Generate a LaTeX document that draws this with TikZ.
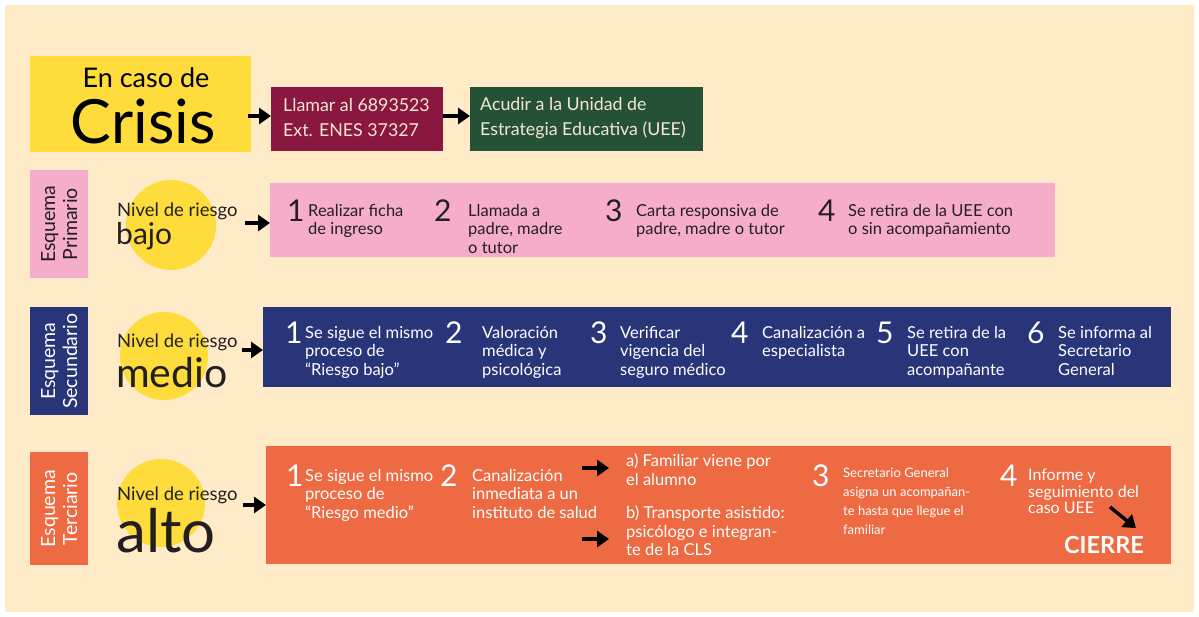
\documentclass[tikz,border=0pt]{standalone}
\usepackage{fontspec}
\setmainfont{Lato}
\usetikzlibrary{arrows.meta}
\definecolor{cream}{HTML}{FFEBC8}
\definecolor{yel}{HTML}{FDDC3C}
\definecolor{maroon}{HTML}{8A173F}
\definecolor{dgreen}{HTML}{255236}
\definecolor{pinkb}{HTML}{F5ADCA}
\definecolor{navy}{HTML}{283579}
\definecolor{orng}{HTML}{EE6A43}
\definecolor{lighttxt}{HTML}{F5E6D6}
\definecolor{darktxt}{HTML}{231F20}
\tikzset{
  box/.style={draw=none, inner sep=0pt, anchor=north west, rectangle},
  arr/.style={line width=4.3pt, -{Triangle[length=12pt,width=16pt]}},
  num/.style={inner sep=0pt, anchor=north west, font=\fontsize{30}{30}\selectfont},
  stxt/.style={inner sep=0pt, anchor=north west, align=left, font=\fontsize{16.5}{18.5}\selectfont},
  small/.style={inner sep=0pt, anchor=north west, align=left, font=\fontsize{13}{19}\selectfont},
  esq/.style={inner sep=0pt, rotate=90, align=center, font=\fontsize{19.5}{22}\selectfont},
  nivel/.style={inner sep=0pt, anchor=base west, font=\fontsize{18.5}{18.5}\selectfont, text=darktxt},
  blob/.style={circle, fill=yel, inner sep=0pt},
}
\begin{document}
\begin{tikzpicture}[x=1pt,y=-1pt]
\useasboundingbox (0,0) rectangle (1199,617);
\fill[white] (0,0) rectangle (1199,617);
\fill[cream] (5,5) rectangle (1194,612);

% ---- top row
\node[box, fill=yel, minimum width=221pt, minimum height=96pt] (crisis) at (30,56) {};
\node[inner sep=0pt, font=\fontsize{27}{27}\selectfont, text=black] (encaso) at (146,78) {En caso de};
\node[inner sep=0pt, font=\fontsize{61}{61}\selectfont, text=black] (crisisw) at (143,121) {Crisis};

\node[box, fill=maroon, minimum width=172pt, minimum height=64pt] (llamar) at (271,87) {};
\node[inner sep=0pt, anchor=west, align=left, text=lighttxt, font=\fontsize{17.8}{25}\selectfont] (llamart) at (283,118) {Llamar al 6893523\\Ext. ENES 37327};

\node[box, fill=dgreen, minimum width=233pt, minimum height=64pt] (acudir) at (470,87) {};
\node[inner sep=0pt, anchor=west, align=left, text=lighttxt, font=\fontsize{17.8}{25}\selectfont] (acudirt) at (480,118) {Acudir a la Unidad de\\Estrategia Educativa (UEE)};

\draw[arr] ([xshift=-3pt]crisis.east |- 0,116) -- (llamar.west |- 0,116);
\draw[arr] (llamar.east |- 0,116) -- (acudir.west |- 0,116);

% ---- primario row
\node[box, fill=pinkb, minimum width=58pt, minimum height=108pt] (esqp) at (30,170) {};
\node[esq, text=darktxt] (esqpt) at (esqp.center) {Esquema\\Primario};
\node[blob, minimum size=90pt] (c1) at (171,225) {};
\node[nivel] (nv1) at (117,217) {Nivel de riesgo};
\node[nivel, font=\fontsize{30}{30}\selectfont] (bajo) at (116,245) {bajo};
\node[box, fill=pinkb, minimum width=785pt, minimum height=74pt] (pbox) at (270,183) {};
\draw[arr] ([xshift=7pt]nv1.east |- 0,223) -- (pbox.west |- 0,223);

\begin{scope}[every node/.append style={text=darktxt}]
\node[num] (p1n) at (287,200) {1};
\node[stxt] (p1t) at (308,204) {Realizar ficha\\de ingreso};
\node[num] (p2n) at (434,200) {2};
\node[stxt] (p2t) at (468,204) {Llamada a\\padre, madre\\o tutor};
\node[num] (p3n) at (605,200) {3};
\node[stxt] (p3t) at (636,204) {Carta responsiva de\\padre, madre o tutor};
\node[num] (p4n) at (818,200) {4};
\node[stxt] (p4t) at (848,204) {Se retira de la UEE con\\o sin acompañamiento};
\end{scope}

% ---- secundario row
\node[box, fill=navy, minimum width=58pt, minimum height=108pt] (esqs) at (30,307) {};
\node[esq, text=white] (esqst) at (esqs.center) {Esquema\\Secundario};
\node[blob, minimum size=88pt] (c2) at (164,356) {};
\node[nivel] (nv2) at (117,348) {Nivel de riesgo};
\node[nivel, font=\fontsize{41}{41}\selectfont] (medio) at (116,387) {medio};
\node[box, fill=navy, minimum width=908pt, minimum height=80pt] (sbox) at (263,307) {};
\draw[arr] ([xshift=4pt]nv2.east |- 0,350) -- (sbox.west |- 0,350);

\begin{scope}[every node/.append style={text=white}]
\node[num] (s1n) at (285,322) {1};
\node[stxt] (s1t) at (305,326) {Se sigue el mismo\\proceso de\\“Riesgo bajo”};
\node[num] (s2n) at (445,322) {2};
\node[stxt] (s2t) at (482,326) {Valoración\\médica y\\psicológica};
\node[num] (s3n) at (590,322) {3};
\node[stxt] (s3t) at (620,326) {Verificar\\vigencia del\\seguro médico};
\node[num] (s4n) at (731,322) {4};
\node[stxt] (s4t) at (762,326) {Canalización a\\especialista};
\node[num] (s5n) at (876,322) {5};
\node[stxt] (s5t) at (907,326) {Se retira de la\\UEE con\\acompañante};
\node[num] (s6n) at (1027,322) {6};
\node[stxt] (s6t) at (1058,326) {Se informa al\\Secretario\\General};
\end{scope}

% ---- terciario row
\node[box, fill=orng, minimum width=58pt, minimum height=113pt] (esqt) at (30,452) {};
\node[esq, text=white] (esqtt) at (esqt.center) {Esquema\\Terciario};
\node[blob, minimum size=88pt] (c3) at (161,503) {};
\node[nivel] (nv3) at (117,500) {Nivel de riesgo};
\node[nivel, font=\fontsize{60}{60}\selectfont] (alto) at (116,552) {alto};
\node[box, fill=orng, minimum width=905pt, minimum height=118pt] (tbox) at (266,446) {};
\draw[arr] ([xshift=5pt]nv3.east |- 0,505) -- (tbox.west |- 0,505);

\begin{scope}[every node/.append style={text=white}]
\node[num] (t1n) at (286,465) {1};
\node[stxt] (t1t) at (305,469) {Se sigue el mismo\\proceso de\\“Riesgo medio”};
\node[num] (t2n) at (440,465) {2};
\node[stxt] (t2t) at (472,469) {Canalización\\inmediata a un\\instituto de salud};
\node[stxt] (ta) at (626,454) {a) Familiar viene por\\el alumno};
\node[stxt] (tb) at (626,506) {b) Transporte asistido:\\psicólogo e integran-\\te de la CLS};
\node[num] (t3n) at (812,465) {3};
\node[small] (t3t) at (843,468) {Secretario General\\asigna un acompañan-\\te hasta que llegue el\\familiar};
\node[num] (t4n) at (1000,465) {4};
\node[stxt, font=\fontsize{16}{16.5}\selectfont] (t4t) at (1028,469) {Informe y\\seguimiento del\\caso UEE};
\node[inner sep=0pt, font=\bfseries\fontsize{23.5}{23.5}\selectfont] (cierre) at (1104,545) {CIERRE};
\end{scope}
\coordinate (aS) at (582,468);
\coordinate (bS) at (582,539);
\draw[arr] (aS) -- (609,468);
\draw[arr] (bS) -- (609,539);
\coordinate (dS) at (1110,507);
\draw[arr, line width=3.4pt] (dS) -- ([xshift=32pt,yshift=8pt]cierre.north);
\end{tikzpicture}
\end{document}
